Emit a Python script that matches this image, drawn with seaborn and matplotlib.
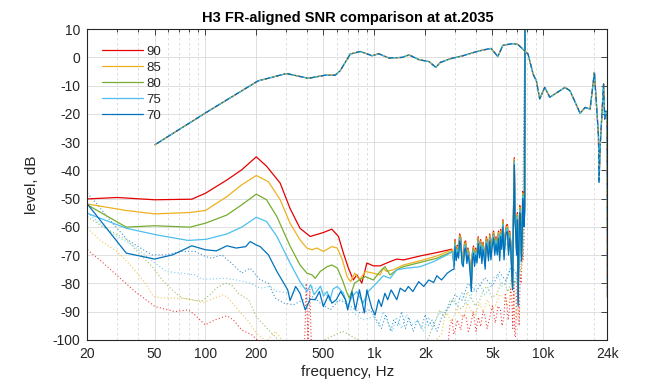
import numpy as np
import pandas as pd
import seaborn as sns
import matplotlib.pyplot as plt
from matplotlib.ticker import FixedLocator, NullFormatter

# series labels and colours (90 ... 70)
levels = ['90', '85', '80', '75', '70']
colors = ['#E60000', '#EDB120', '#77AC30', '#4DBEEE', '#0072BD']

# ---- solid curves (low / mid frequency part) ----
f_90 = [20, 30, 50, 83, 100, 134, 164, 200, 230, 277, 317, 363, 417, 499, 560, 613, 656, 702,
        751, 787, 843, 903, 987, 1081, 1240, 1358, 1487, 1866, 2344, 2874]
db_90 = [-50.1, -49.6, -50.4, -50.2, -48.1, -43.4, -39.8, -35.2, -38.5, -44.5, -53.5, -60.5, -63.4,
         -62, -60.8, -63.4, -69.3, -74.6, -78.8, -77, -79.9, -72.8, -73.8, -73.8, -72.3, -71.4,
         -71.7, -70.3, -69.1, -67.9]

f_85 = [20, 34, 50, 81, 100, 134, 164, 200, 236, 277, 317, 363, 399, 427, 458, 499, 560, 604,
        647, 690, 724, 765, 816, 885, 987, 1081, 1130, 1178, 1290, 1487, 1866, 2344, 2900]
db_85 = [-51.9, -54.2, -55.4, -54.9, -54.2, -49.3, -45.1, -41.8, -44, -50.4, -58.7, -64.6, -67.5,
         -68.1, -67.5, -68.7, -67, -67.5, -71.7, -77.6, -79.4, -76.4, -78.8, -75.8, -76.4, -77,
         -74.6, -75.8, -75.2, -73.5, -72, -70.3, -68.1]

f_80 = [20, 34, 50, 81, 100, 134, 164, 200, 230, 265, 317, 363, 399, 427, 447, 478, 525, 560,
        604, 647, 690, 711, 765, 816, 885, 987, 1081, 1155, 1240, 1358, 1487, 1866, 2344, 2900]
db_80 = [-52.2, -60.1, -59.6, -60.1, -58.7, -55.8, -52.2, -48.4, -50.4, -56.4, -66.8, -73.5, -76.4,
         -77, -78.2, -75.8, -74.1, -73.5, -74.6, -78.8, -83.5, -85.2, -79.9, -78.8, -77.6, -78.8,
         -75.8, -74.1, -77, -75.2, -74.1, -72.6, -71.1, -68.7]

f_75 = [20, 34, 51, 79, 101, 134, 164, 200, 230, 265, 317, 363, 399, 420, 440, 480, 500, 525,
        545, 570, 604, 656, 695, 738, 787, 858, 920, 1030, 1130, 1240, 1358, 1560, 1866, 2245,
        2700, 2900]
db_75 = [-55.2, -60.5, -62.8, -64.8, -64.4, -62.5, -60.1, -56.6, -58.1, -63.4, -72.8, -79.4, -82.9,
         -80.5, -84, -81, -84.5, -82.9, -86, -82, -81.1, -83.5, -88.2, -84.7, -82.9, -87, -82.9,
         -79.9, -77.3, -78.2, -75.2, -74.6, -74.1, -72.3, -69.9, -68.7]

f_70 = [20, 34, 50, 64, 83, 100, 116, 134, 152, 173, 184, 200, 211, 236, 265, 307, 317, 342, 363,
        390, 417, 447, 473, 499, 535, 560, 595, 632, 675, 695, 738, 773, 816, 873, 903, 966, 1010,
        1060, 1100, 1155, 1200, 1257, 1358, 1423, 1520, 1590, 1690, 1830, 1960, 2100, 2245, 2344,
        2500, 2700, 2890]
db_70 = [-51.9, -69.3, -71.4, -69.9, -66.7, -68.1, -68.5, -66.7, -67.5, -67, -65.2, -66.4, -67,
         -69.9, -75.8, -82.3, -86.1, -81.1, -83.5, -89.4, -85.6, -85.8, -82.9, -88.2, -84.1, -87,
         -85.8, -82.9, -85.8, -89.4, -82.9, -89.4, -82.3, -90.5, -82.3, -88.8, -91.2, -85.8, -88.2,
         -83.5, -85.8, -82.3, -85.8, -81.7, -82.9, -81.1, -82.9, -79.4, -81.1, -78.8, -79.7, -77.3,
         -78.8, -76.4, -75.2]

# shared noisy high-frequency part where all solid curves meet
tail_f = [2960, 3000, 3050, 3100, 3150, 3200, 3250, 3300, 3360, 3420, 3470, 3530, 3580, 3630,
          3690, 3750, 3800, 3860, 3920, 3980, 4050, 4120, 4190, 4260, 4330, 4400, 4460, 4530,
          4600, 4670, 4740, 4820, 4900, 4980, 5080, 5160, 5250, 5340, 5430, 5520, 5590, 5680,
          5770, 5860, 5950, 6050, 6140, 6230, 6330, 6430, 6500, 6580, 6650, 6740, 6800, 6870,
          6950, 7030, 7100, 7180, 7260, 7340, 7420, 7500, 7560, 7620, 7700, 7760, 7800]
tail_db = [-75, -67, -72, -69, -71.1, -65, -66.4, -73, -74.1, -68, -67.5, -73, -70, -71.7, -76,
           -82.9, -72, -69.3, -74, -70, -72.8, -66, -71, -67, -73, -68, -70.5, -75, -66, -67.5,
           -72, -65, -71.7, -67, -64, -70, -66, -69.9, -64, -72, -63.4, -68, -60, -71.7, -65,
           -62, -61.7, -70, -64, -68.1, -76, -82.3, -60, -38, -58, -62, -70, -57.5, -88, -66,
           -55, -58, -72, -63.4, -50, -52.8, -60, -55, 15]
tail_lift = [2.5, 2.0, 1.5, 1.0, 0.0]

# ---- dotted curves ----
fd_90 = [20, 24.3, 30.5, 38.3, 50.3, 66, 79, 86.8, 99.6, 114, 134, 146, 164, 188, 215, 260, 330,
         385, 395, 405, 415, 425, 500, 1000, 2000, 2700, 2800, 2890, 2950, 3000, 3100, 3250,
         3350, 3500, 3600, 3720, 3850, 4000, 4130, 4260, 4400, 4500, 4650, 4830, 5000, 5200,
         5400, 5580, 5700, 5850, 5950, 6080, 6200, 6300, 6400, 6500, 6600, 6700, 6780, 6850,
         6950, 7000, 7080, 7150, 7200, 7300, 7400, 7500, 7600, 7700, 7800]
dbd_90 = [-68.1, -72.3, -77.6, -82.9, -88.2, -90, -89.4, -91.2, -94.7, -92.9, -91.5, -92.9, -96.5,
          -98.2, -101.5, -104, -105, -105, -80, -100, -82, -105, -106, -106, -106, -104, -95,
          -92.9, -98, -97, -93, -96.5, -91, -92, -97, -94.7, -90, -97, -92, -95.3, -90, -91, -96,
          -91.8, -88, -94, -88, -89.4, -95, -91.8, -84, -87, -93, -89.4, -82, -84, -96, -78.8,
          -99, -99, -85, -76, -74.1, -86, -95, -77, -80, -70, -72, -64, 15]

fd_85 = [20, 24.3, 29.9, 36.6, 44, 49.3, 55.4, 72.5, 83, 97.6, 109, 127, 134, 156, 180, 200, 230,
         260, 300, 400, 600, 1000, 2000, 2500, 2600, 2700, 2850, 3080, 3200, 3400, 3550, 3720,
         3900, 4200, 4400, 4670, 4900, 5200, 5500, 5900, 6100, 6400, 6600, 6800, 6950, 7100,
         7250, 7400, 7600, 7800]
dbd_85 = [-60.5, -65.2, -68.7, -74, -79.9, -84.7, -85.2, -85.2, -85.8, -86.8, -85.6, -84.1, -84.7,
          -89.4, -93.5, -97.6, -100.5, -97, -102, -104, -103, -105, -104, -98, -92, -90.5, -94,
          -88.8, -91, -92, -87, -89.4, -92, -87, -90, -85.8, -89, -88, -84, -85.2, -88, -86, -80,
          -82.3, -92, -90, -78, -74.1, -70, 15]

fd_80 = [20, 24.6, 34.3, 40.4, 48.3, 55.4, 63.5, 72.5, 83, 94.8, 106, 116, 131, 143, 156, 180, 200,
         241, 280, 400, 550, 650, 800, 1000, 2000, 2200, 2440, 2600, 2800, 2960, 3200, 3400, 3550,
         3720, 3950, 4200, 4450, 4670, 4950, 5300, 5600, 5900, 6200, 6540, 6800, 7080, 7300,
         7600, 7800]
dbd_80 = [-56.4, -59.9, -64.6, -69.3, -74, -78.8, -82.3, -85.2, -85.8, -86.4, -84.1, -81.7, -79.9,
          -80.5, -83.5, -85.8, -91.8, -97, -101, -103, -99, -97, -100, -103, -102, -96, -89.4,
          -92, -86, -85.8, -89, -88, -83, -84.7, -88, -86, -82, -81.1, -85, -84, -80, -79.9, -83,
          -77.6, -80, -74.1, -76, -68.1, 15]

fd_75 = [20, 25, 30, 37, 48.3, 58.6, 72.5, 86.8, 95, 106, 131, 152, 184, 211, 241, 265, 332, 370,
         420, 499, 575, 656, 751, 858, 987, 1060, 1130, 1200, 1280, 1350, 1450, 1550, 1650, 1800,
         1950, 2100, 2200, 2400, 2600, 2900, 3100, 3300, 3500, 3700, 3950, 4200, 4500, 4800,
         5100, 5400, 5700, 6000, 6300, 6600, 6850, 7100, 7350, 7600, 7800]
dbd_75 = [-55, -60, -63.5, -66.4, -72, -75.8, -76.4, -77, -78.5, -78.5, -78.2, -78.8, -79.9, -81.7,
          -81.1, -82.9, -83.5, -80.5, -81, -82.9, -87, -85.8, -90.5, -92.9, -91.8, -95, -90, -94,
          -97, -92, -96, -91, -95, -93, -97, -92, -96, -91, -90, -86, -88, -83, -87, -85, -81,
          -80, -84, -82, -78, -77, -81, -80, -75, -76, -80, -74, -72, -70, 15]

fd_70 = [20, 23, 26.6, 30.6, 34.3, 40, 48.3, 58.6, 72.5, 86.8, 100, 109, 125, 143, 164, 184, 211,
         236, 259, 292, 332, 380, 436, 478, 547, 620, 724, 826, 944, 1030, 1100, 1170, 1250, 1300,
         1380, 1450, 1530, 1600, 1700, 1800, 1900, 2000, 2100, 2200, 2350, 2500, 2650, 2800,
         3000, 3300, 3600, 4000, 4500, 5000, 5500, 6000, 6500, 7000, 7500, 7800]
dbd_70 = [-48.1, -52.2, -56.9, -61.1, -64.4, -67, -69.9, -69.9, -68.7, -68.7, -70.5, -71.1, -69.9,
          -72.9, -76.4, -74.6, -78.8, -79.9, -85.2, -87, -87.6, -85.8, -84.7, -87, -89.4, -85.8,
          -88.2, -90.5, -89.4, -92.9, -96, -91, -97, -93, -95, -90, -96, -92, -97, -93, -96, -91,
          -95, -93, -97, -92, -90, -88, -84, -86, -80, -83, -78, -81, -76, -79, -74, -77, -70, 15]

# ---- FR-aligned response (dash-dot, identical for all levels) ----
fr_f = [50, 101, 205, 302, 406, 511, 586, 628, 720, 826, 970, 1062, 1219, 1463, 1603, 1840, 2110,
        2311, 2455, 2800, 3300, 3900, 4385, 4909, 5383, 5767, 6610, 7080, 7760, 8125, 8705, 9100,
        9530, 10200, 10930, 12540, 13430, 14390, 15410, 16510, 17680, 18930, 20080, 21220, 21400,
        21700, 22750, 23100, 23500, 23900, 24000]
fr_db = [-31, -19.5, -8.3, -5.7, -7.4, -6.3, -6.3, -4.7, 1.2, 2.1, 0.6, 1.3, -0.2, 0, 0.9, -0.8,
         -1.5, -3.5, -1.8, -0.5, 0.5, 1.8, 2.6, 3.2, 0.3, 4.3, 4.9, 4.6, 2.3, 1.2, -5.9, -8.3, -14.7,
         -10.6, -14.1, -11.8, -10.6, -11.8, -15.7, -19.8, -17.7, -18.3, -5.3, -27.7, -44.2, -32,
         -9.4, -21.8, -19, -20, -85]

xticks = [20, 50, 100, 200, 500, 1000, 2000, 5000, 10000, 24000]
xtick_labels = ['20', '50', '100', '200', '500', '1k', '2k', '5k', '10k', '24k']
xminor = [30, 40, 60, 70, 80, 90, 300, 400, 600, 700, 800, 900,
          3000, 4000, 6000, 7000, 8000, 9000, 20000]

solid_f = [f_90, f_85, f_80, f_75, f_70]
solid_db = [db_90, db_85, db_80, db_75, db_70]
dot_f = [fd_90, fd_85, fd_80, fd_75, fd_70]
dot_db = [dbd_90, dbd_85, dbd_80, dbd_75, dbd_70]

sns.set_theme(style="white")
plt.rcParams['font.family'] = ['Liberation Sans', 'DejaVu Sans']
plt.rcParams['axes.unicode_minus'] = False

fig = plt.figure(figsize=(6.72, 3.84), dpi=100)
ax = fig.add_axes([0.13, 0.115, 0.774, 0.809])

# dotted curves underneath
for i, lab in enumerate(levels):
    df = pd.DataFrame({'f': dot_f[i], 'db': dot_db[i]})
    sns.lineplot(data=df, x='f', y='db', ax=ax, color=colors[i], lw=0.8, alpha=0.75,
                 linestyle=(0, (1, 2)), estimator=None, sort=False, legend=False)

# solid curves
for i, lab in enumerate(levels):
    df = pd.DataFrame({'f': solid_f[i] + tail_f,
                       'db': solid_db[i] + [v + tail_lift[i] for v in tail_db]})
    sns.lineplot(data=df, x='f', y='db', ax=ax, color=colors[i], lw=0.9,
                 estimator=None, sort=False, label=lab)

# dash-dot FR curves
for i, lab in enumerate(levels):
    df = pd.DataFrame({'f': fr_f, 'db': fr_db})
    sns.lineplot(data=df, x='f', y='db', ax=ax, color=colors[i], lw=0.9,
                 linestyle=(i * 1.8, (4, 2, 1.2, 2)), estimator=None, sort=False, legend=False)

ax.set_xscale('log')
ax.set_xlim(20, 24000)
ax.set_ylim(-100, 10)
ax.set_yticks(np.arange(-100, 11, 10))
ax.xaxis.set_major_locator(FixedLocator(xticks))
ax.set_xticklabels(xtick_labels)
ax.xaxis.set_minor_locator(FixedLocator(xminor))
ax.xaxis.set_minor_formatter(NullFormatter())

ax.grid(True, which='major', color='#DADADA', lw=0.6, ls='-')
ax.grid(True, which='minor', axis='x', color='#D8D8D8', lw=0.6, ls=(0, (3, 3)))
ax.set_axisbelow(True)

for s in ax.spines.values():
    s.set_color('#262626')
    s.set_linewidth(0.8)
ax.tick_params(which='both', direction='in', top=True, right=True, colors='#262626',
               labelsize=10, labelcolor='#262626')
ax.tick_params(which='major', length=4, width=0.6, pad=5)
ax.tick_params(which='minor', length=2, width=0.6)

ax.set_xlabel('frequency, Hz', fontsize=11, color='#262626', labelpad=3)
ax.set_ylabel('level, dB', fontsize=11, color='#262626', labelpad=10)
ax.set_title('H3 FR-aligned SNR comparison at at.2035', fontsize=10.5, fontweight='bold',
             color='#000000', pad=5)

leg = ax.legend(loc='upper left', bbox_to_anchor=(0.005, 0.985), frameon=False, fontsize=9.5,
                handlelength=3.1, handletextpad=0.25, labelspacing=0.28, borderpad=0.4)

fig.savefig('out.png', dpi=100)
